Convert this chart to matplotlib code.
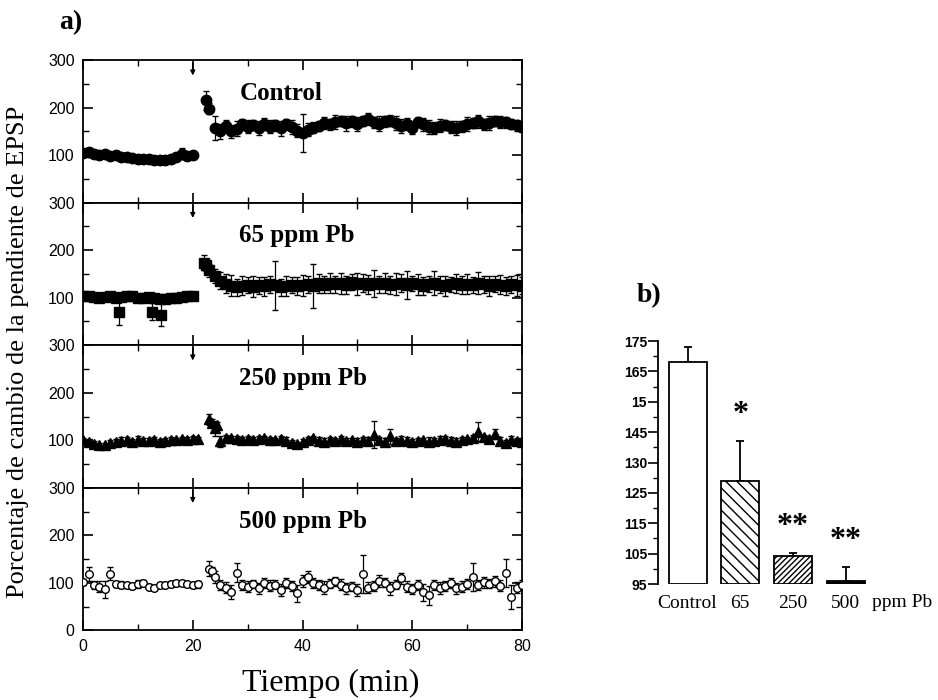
import numpy as np
import matplotlib
matplotlib.use('Agg')
import matplotlib.pyplot as plt

plt.rcParams['font.family'] = 'Liberation Sans'

# ---- panel a: % change of EPSP slope vs time ----
# control
ctl_t_pre = [0, 1, 2, 3, 4, 5, 6, 7, 8, 9, 10, 11, 12, 13, 14, 15, 16, 17, 18, 19, 20]
ctl_pre = [104, 106, 103, 101, 102, 99, 100, 97, 96, 95, 93, 92, 91, 90, 89, 90, 92, 96, 103, 99, 100]
ctl_pre_err = [6, 9, 7, 5, 6, 8, 5, 7, 5, 6, 5, 6, 7, 5, 8, 6, 5, 9, 12, 8, 7]
ctl_t_post = [22.5, 23] + list(range(24, 81))
ctl_post = [216, 198, 158, 150, 162, 150, 156, 165, 160, 164, 158, 166, 160, 163, 157, 165, 160, 152,
            146, 154, 158, 162, 168, 165, 170, 172, 167, 171, 166, 172, 176, 169, 166, 171, 173, 168,
            161, 166, 158, 170, 165, 160, 157, 162, 164, 159, 157, 161, 166, 168, 171, 165, 168, 172,
            170, 169, 166, 163, 160]
ctl_post_err = [20, 12, 25, 15, 12, 14, 16, 12, 14, 10, 15, 12, 14, 11, 16, 12, 15, 14,
                40, 14, 12, 10, 13, 12, 14, 11, 15, 12, 14, 11, 13, 12, 16, 12, 11, 14,
                15, 12, 14, 11, 13, 15, 12, 14, 11, 13, 15, 12, 14, 10, 13, 12, 14, 11,
                13, 12, 10, 12, 11]

# 65 ppm Pb
p65_t_pre = [0, 1, 2, 3, 4, 5, 6, 7, 8, 9, 10, 11, 12, 13, 14, 15, 16, 17, 18, 19, 20, 6.5, 12.5, 14.3]
p65_pre = [104, 103, 101, 100, 102, 103, 100, 102, 104, 103, 100, 99, 101, 100, 98, 97, 100, 99, 101, 103, 104,
           69, 71, 64]
p65_pre_err = [5, 4, 6, 5, 7, 5, 6, 5, 4, 6, 5, 7, 5, 6, 5, 7, 5, 6, 5, 4, 5, 26, 17, 24]
p65_t_post = [22, 22.5] + list(range(23, 81))
p65_post = [174, 168, 158, 146, 136, 129, 125,
            122, 125, 127, 123, 126, 124, 128, 126, 122, 125, 127, 124, 126, 128, 125, 130, 127, 132,
            128, 130, 126, 133, 129, 131, 127, 130, 128, 132, 126, 129, 131, 127, 130, 128, 125, 129,
            131, 127, 124, 128, 130, 126, 129, 127, 131, 128, 125, 129, 127, 124, 128, 126, 125]
p65_post_err = [15, 12, 14, 15, 18, 20, 22,
                18, 20, 16, 22, 18, 20, 17, 52, 18, 21, 16, 19, 22, 17, 46, 20, 18, 21,
                17, 22, 19, 16, 23, 18, 20, 28, 17, 21, 19, 24, 18, 30, 16, 22, 19, 17,
                25, 18, 21, 16, 20, 19, 22, 17, 24, 18, 21, 16, 20, 19, 17, 22, 18]

# 250 ppm Pb
p250_t_pre = [0, 1, 2, 3, 4, 5, 6, 7, 8, 9, 10, 11, 12, 13, 14, 15, 16, 17, 18, 19, 20, 21]
p250_pre = [101, 97, 93, 90, 91, 94, 97, 99, 100, 97, 101, 99, 98, 100, 97, 99, 101, 100, 102, 101, 103, 102]
p250_pre_err = [4, 5, 6, 5, 4, 6, 5, 7, 6, 5, 8, 5, 6, 7, 5, 6, 5, 4, 5, 6, 5, 4]
p250_t_post = [23, 23.5, 24, 24.5, 25] + list(range(26, 81))
p250_post = [144, 136, 125, 132, 98,
             105, 104, 102, 101, 103, 100, 102, 104, 101, 100, 103, 99, 95, 92, 96, 100, 104, 98, 97,
             101, 99, 102, 98, 100, 97, 101, 99, 112, 100, 97, 108, 99, 101, 98, 96, 99, 100, 97, 99,
             101, 103, 99, 97, 100, 102, 104, 118, 106, 103, 113, 99, 95, 101, 99, 97]
p250_post_err = [12, 8, 15, 6, 12,
                 6, 5, 7, 6, 5, 6, 7, 5, 6, 5, 6, 7, 6, 5, 6, 7, 5, 8, 7,
                 6, 5, 7, 6, 5, 8, 6, 7, 28, 6, 8, 15, 6, 7, 8, 7, 6, 5, 9, 6,
                 7, 6, 8, 7, 6, 5, 7, 20, 6, 7, 10, 8, 6, 7, 6, 8]

# 500 ppm Pb
p500_t_pre = [0, 1, 2, 3, 4, 5, 6, 7, 8, 9, 10, 11, 12, 13, 14, 15, 16, 17, 18, 19, 20, 21]
p500_pre = [101, 118, 95, 92, 86, 119, 98, 96, 95, 93, 97, 99, 92, 90, 95, 96, 98, 99, 100, 97, 96, 97]
p500_pre_err = [6, 15, 8, 12, 18, 14, 6, 7, 5, 6, 8, 6, 5, 6, 5, 5, 6, 5, 4, 5, 6, 7]
p500_t_post = [23, 23.5, 24] + list(range(25, 81))
p500_post = [130, 124, 112,
             95, 90, 80, 121, 95, 92, 97, 88, 100, 94, 96, 85, 99, 93, 78, 104, 112, 100, 95, 90, 98,
             103, 96, 88, 92, 85, 118, 90, 93, 104, 100, 88, 96, 109, 92, 87, 95, 80, 74, 95, 89, 93,
             100, 88, 92, 97, 112, 95, 101, 98, 103, 94, 121, 70, 90, 95]
p500_post_err = [15, 10, 12,
                 10, 12, 15, 20, 10, 12, 9, 11, 10, 12, 9, 13, 10, 11, 18, 12, 12, 10, 11, 13, 9,
                 10, 12, 11, 10, 13, 40, 11, 10, 12, 9, 13, 10, 11, 12, 10, 11, 18, 20, 10, 12, 11,
                 10, 12, 11, 10, 30, 11, 12, 10, 11, 12, 30, 25, 11, 10]

panel_names = ['Control', '65 ppm Pb', '250 ppm Pb', '500 ppm Pb']
panel_markers = ['o', 's', '^', 'o']
panel_faces = ['k', 'k', 'k', 'w']
panel_ms = [7.5, 7.5, 6.5, 5.5]

# ---- panel b: bar chart ----
bar_labels = ['Control', '65', '250', '500']
bar_vals = [168, 129, 104.3, 96]
bar_errs = [5, 13, 1, 4.5]
bar_stars = ['', '*', '**', '**']
b_ytick_vals = [95, 105, 115, 125, 135, 145, 155, 165, 175]
b_ytick_text = ['95', '105', '115', '125', '130', '145', '15', '165', '175']

fig = plt.figure(figsize=(9.38, 7.0), dpi=100)

series = [
  (ctl_t_pre, ctl_pre, ctl_pre_err, ctl_t_post, ctl_post, ctl_post_err),
  (p65_t_pre, p65_pre, p65_pre_err, p65_t_post, p65_post, p65_post_err),
  (p250_t_pre, p250_pre, p250_pre_err, p250_t_post, p250_post, p250_post_err),
  (p500_t_pre, p500_pre, p500_pre_err, p500_t_post, p500_post, p500_post_err),
]

left, width = 0.0885, 0.468
top, ph = 0.914, 0.2036
axes = []
for i, (tp, vp, ep, tq, vq, eq) in enumerate(series):
  ax = fig.add_axes([left, top - (i + 1) * ph, width, ph])
  axes.append(ax)
  t = list(tp) + list(tq)
  v = list(vp) + list(vq)
  e = list(ep) + list(eq)
  ax.errorbar(t, v, yerr=e, fmt=panel_markers[i], ms=panel_ms[i], mfc=panel_faces[i], mec='k', mew=1,
              ecolor='k', elinewidth=0.9, capsize=2.5, capthick=0.9, zorder=3)
  ax.set_xlim(0, 80)
  ax.set_ylim(0, 300)
  ax.set_xticks([0, 20, 40, 60, 80])
  ax.set_xticks([10, 30, 50, 70], minor=True)
  ax.set_yticks([0, 100, 200, 300])
  ax.set_yticks([50, 150, 250], minor=True)
  if i < 3:
    ax.set_yticklabels(['', '100', '200', '300'])
    ax.tick_params(labelbottom=False)
  else:
    ax.set_yticklabels(['0', '100', '200', '300'])
  ax.tick_params(which='both', direction='in', top=True, right=True, labelsize=11.5, pad=6)
  ax.tick_params(which='major', length=7, width=1.2)
  ax.tick_params(which='minor', length=4, width=1)
  for s in ax.spines.values():
    s.set_linewidth(1.3)
  # arrow marking the stimulus at 20 min
  ax.annotate('', xy=(20, 262), xytext=(20, 300),
              arrowprops=dict(arrowstyle='-|>', color='k', lw=1, mutation_scale=7))
  ax.text(28.5, 230, panel_names[i], family='Liberation Serif', fontweight='bold',
          fontsize=18, va='center', ha='left')

fig.text(0.075, 0.968, 'a)', family='Liberation Serif', fontweight='bold', fontsize=20, ha='center', va='center')
fig.text(0.019, 0.497, 'Porcentaje de cambio de la pendiente de EPSP', family='Liberation Serif',
         fontsize=19, rotation=90, ha='center', va='center')
fig.text(0.353, 0.024, 'Tiempo (min)', family='Liberation Serif', fontsize=23, ha='center', va='center')

# ---- panel b ----
axb = fig.add_axes([0.7015, 0.1657, 0.2367, 0.3471])
xb = np.arange(len(bar_vals))
heights = [v - 95 for v in bar_vals]
hatches = ['', '\\\\\\', '//////', '']
faces = ['w', 'w', 'w', 'k']
for j in range(len(bar_vals)):
  axb.bar(xb[j], heights[j], bottom=95, width=0.72, color=faces[j], edgecolor='k',
          linewidth=1.3, hatch=hatches[j], zorder=2)
axb.errorbar(xb, bar_vals, yerr=[np.zeros(len(bar_errs)), bar_errs], fmt='none', ecolor='k',
             elinewidth=1.3, capsize=3, capthick=1.3, zorder=1)
for j in range(len(bar_vals)):
  if bar_stars[j]:
    axb.text(xb[j], bar_vals[j] + bar_errs[j] + 4, bar_stars[j], family='Liberation Serif',
             fontweight='bold', fontsize=23, ha='center', va='bottom')
axb.set_xlim(-0.56, 3.65)
axb.set_ylim(95, 175)
axb.set_yticks(b_ytick_vals)
axb.set_yticklabels(b_ytick_text, fontweight='bold')
axb.set_yticks([100, 110, 120, 130, 140, 150, 160, 170], minor=True)
axb.set_xticks(xb)
axb.set_xticklabels(bar_labels, family='Liberation Serif', fontsize=14)
axb.tick_params(axis='x', length=0, pad=8)
axb.tick_params(axis='y', which='major', direction='out', length=7, width=1.2, labelsize=10, pad=1)
axb.tick_params(axis='y', which='minor', direction='out', length=3.5, width=1)
for s in ['top', 'right', 'bottom']:
  axb.spines[s].set_visible(False)
axb.spines['left'].set_linewidth(1.3)
fig.text(0.962, 0.139, 'ppm Pb', family='Liberation Serif', fontsize=14, ha='center', va='center')
fig.text(0.692, 0.577, 'b)', family='Liberation Serif', fontweight='bold', fontsize=20, ha='center', va='center')

fig.savefig('out.png', dpi=100)
